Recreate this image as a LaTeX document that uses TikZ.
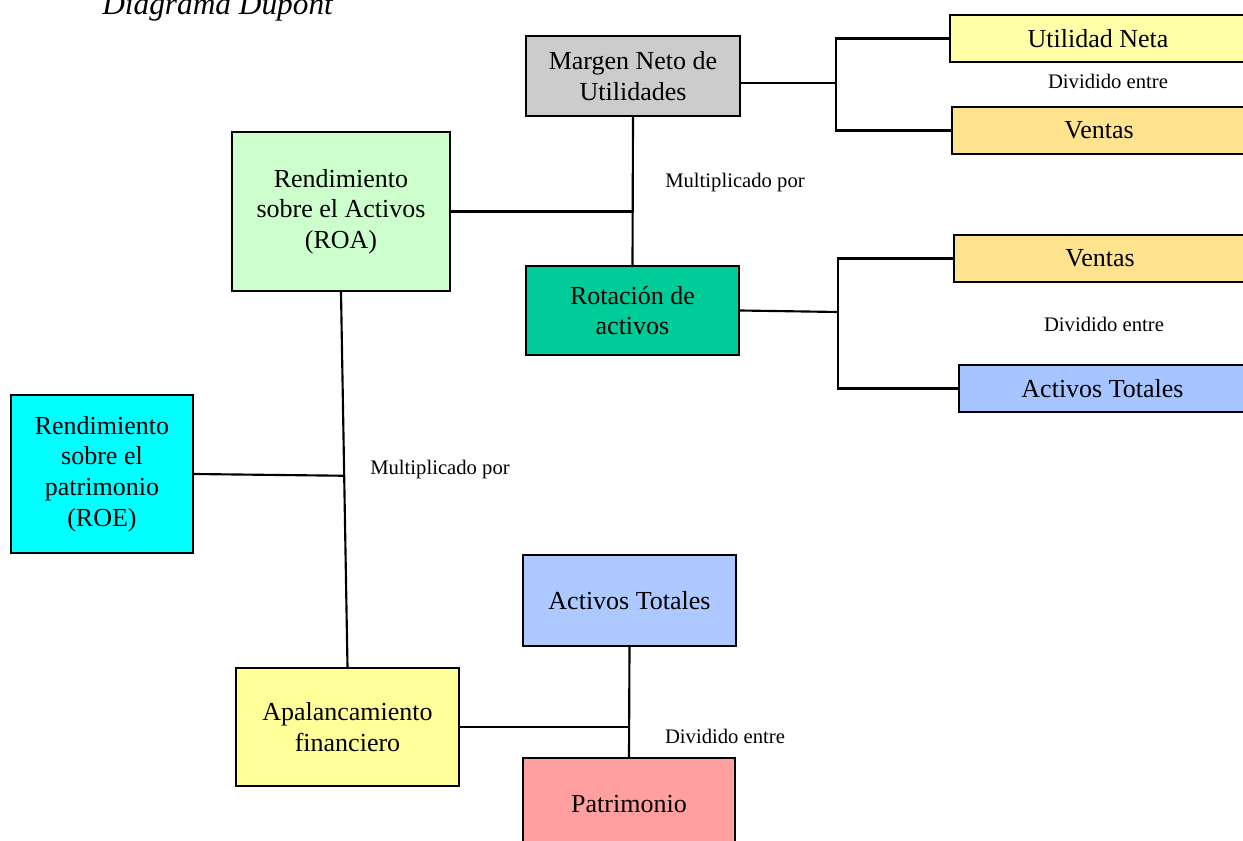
\documentclass[tikz,border=0pt]{standalone}
\usepackage{fontspec}
\setmainfont{Liberation Serif}
\definecolor{DupGray}{HTML}{CCCCCC}
\definecolor{DupLemon}{HTML}{FFFFA8}
\definecolor{DupSand}{HTML}{FFE38F}
\definecolor{DupMint}{HTML}{CCFFCC}
\definecolor{DupTeal}{HTML}{00CC99}
\definecolor{DupBlue}{HTML}{A6C4FF}
\definecolor{DupSky}{HTML}{ADC9FF}
\definecolor{DupCyan}{HTML}{00FFFF}
\definecolor{DupYellow}{HTML}{FFFF99}
\definecolor{DupRose}{HTML}{FF9F9F}
\usetikzlibrary{calc}

\begin{document}
\begin{tikzpicture}[x=0.75pt,y=-0.75pt,
      box/.style={draw=black,line width=1.6pt,rectangle,inner sep=0pt,align=center,
                  font=\fontsize{19.5}{23}\selectfont},
      note/.style={inner sep=0pt,font=\fontsize{15.5}{18}\selectfont},
      wire/.style={line width=1.6pt,draw=black}]
    \clip (0,0) rectangle (1243,841);
    \node[anchor=base west,inner sep=0pt,font=\fontsize{23.5}{28}\selectfont\itshape] (title) at (102,15) {Diagrama Dupont};
    % upper branch
    \node[box,fill=DupGray,minimum width=160.5pt,minimum height=60pt]     (mnu)  at (633,76)    {Margen Neto de\\Utilidades};
    \node[box,fill=DupLemon,minimum width=222pt,minimum height=35.25pt]  (un)   at (1098,38.5) {Utilidad Neta};
    \node[box,fill=DupSand,minimum width=220.5pt,minimum height=35.25pt] (vta1) at (1099,130.5) {Ventas};
    \node[note] (div1) at (1108,81) {Dividido entre};
    \node[box,fill=DupMint,minimum width=163.5pt,minimum height=119.25pt] (roa) at (341,211.5) {Rendimiento\\sobre el Activos\\(ROA)};
    \node[box,fill=DupTeal,minimum width=159.75pt,minimum height=66.75pt] (rot) at (632.5,310.5) {Rotación de\\activos};
    \node[note] (mul1) at (735,183) {Multiplicado por};
    \node[box,fill=DupSand,minimum width=219pt,minimum height=35.25pt]   (vta2) at (1100,258.5) {Ventas};
    \node[box,fill=DupBlue,minimum width=215.25pt,minimum height=35.25pt] (act1) at (1102.5,388.5) {Activos Totales};
    \node[note] (div2) at (1104,324) {Dividido entre};
    % lower branch
    \node[box,fill=DupCyan,minimum width=136.5pt,minimum height=118.5pt]  (roe)  at (102,474) {Rendimiento\\sobre el\\patrimonio\\(ROE)};
    \node[box,fill=DupYellow,minimum width=167.25pt,minimum height=88.5pt] (apal) at (347.5,727) {Apalancamiento\\financiero};
    \node[note] (mul2) at (440,470) {Multiplicado por};
    \node[box,fill=DupSky,minimum width=159.75pt,minimum height=68.25pt]  (act2) at (629.5,600.5) {Activos Totales};
    \node[box,fill=DupRose,minimum width=159pt,minimum height=69pt]       (pat)  at (629,804) {Patrimonio};
    \node[note] (div3) at (725,736) {Dividido entre};
    % connectors
    \coordinate (j1) at (836,83);
    \coordinate (j2) at (838,312);
    \draw[wire] (j1 -| mnu.east) -- (j1);
    \draw[wire] (un.west) -| (j1) |- (vta1.west);
    \draw[wire] (rot.east) -- (j2);
    \draw[wire] (vta2.west) -| (j2) |- (act1.west);
    \draw[wire] (mnu.south) -- (rot.north);
    \draw[wire] (roa.east) -- (roa.east -| mnu.south);
    \draw[wire] (roa.south) -- (apal.north);
    \draw[wire] (roe.east) -- ($(roa.south)!0.49!(apal.north)$);
    \draw[wire] (act2.south) -- (pat.north);
    \draw[wire] (apal.east) -- (apal.east -| act2.south);
\end{tikzpicture}
\end{document}
